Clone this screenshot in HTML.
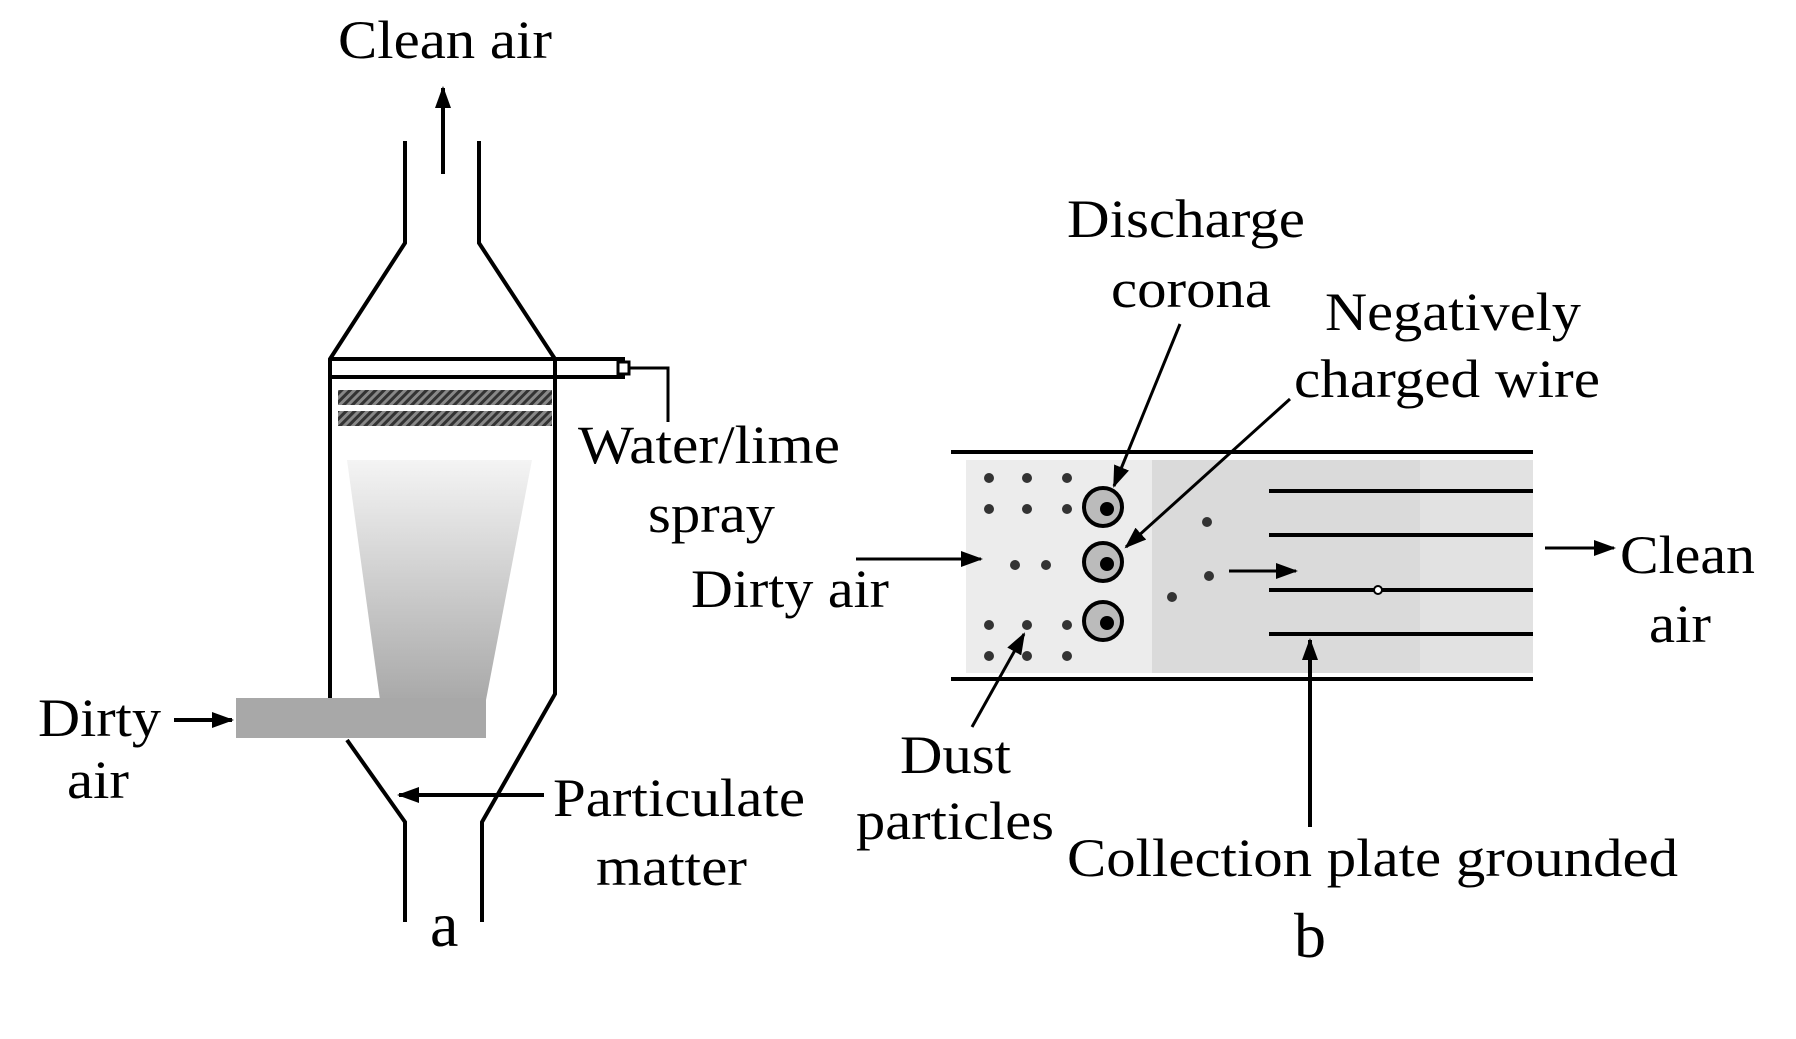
<!DOCTYPE html>
<html><head><meta charset="utf-8"><style>html,body{margin:0;padding:0;background:#fff}svg{display:block}text{font-family:"Liberation Serif","Times New Roman",serif}</style></head>
<body>
<svg width="1796" height="1039" viewBox="0 0 1796 1039" xmlns="http://www.w3.org/2000/svg">
<defs>
<marker id="ah2" markerWidth="22" markerHeight="16" refX="20" refY="8" orient="auto" markerUnits="userSpaceOnUse">
<path d="M0,0 L22,8 L0,16 Z" fill="#000"/></marker>
<linearGradient id="sg" x1="0" y1="0" x2="0" y2="1">
<stop offset="0" stop-color="#f4f4f4"/><stop offset="1" stop-color="#a9a9a9"/></linearGradient>
<pattern id="hatch" width="6" height="6" patternUnits="userSpaceOnUse" patternTransform="rotate(45)">
<rect width="6" height="6" fill="#888"/><rect width="3" height="6" fill="#333"/></pattern>
</defs>
<g font-size="54" fill="#000">
<!-- LEFT -->
<text x="338" y="58" textLength="214" lengthAdjust="spacingAndGlyphs">Clean air</text>
<line x1="443" y1="174" x2="443" y2="88" stroke="#000" stroke-width="4" marker-end="url(#ah2)"/>
<g stroke="#000" stroke-width="4" fill="none">
<polyline points="405,141 405,243 330,359 330,706"/>
<polyline points="479,141 479,243 555,359 555,694 482,822 482,922"/>
<polyline points="347,740 405,822 405,922"/>
<line x1="330" y1="359" x2="625" y2="359"/>
<line x1="330" y1="377" x2="625" y2="377"/>
<polyline points="625,368 668,368 668,422" stroke-width="3"/>
</g>
<rect x="618" y="362" width="11" height="12" fill="#fff" stroke="#000" stroke-width="3"/>
<rect x="338" y="390" width="214" height="15" fill="url(#hatch)"/>
<rect x="338" y="411" width="214" height="15" fill="url(#hatch)"/>
<polygon points="347,460 532,460 486,700 380,700" fill="url(#sg)"/>
<rect x="236" y="698" width="250" height="40" fill="#a8a8a8"/>
<line x1="174" y1="720" x2="232" y2="720" stroke="#000" stroke-width="4" marker-end="url(#ah2)"/>
<line x1="544" y1="795" x2="399" y2="795" stroke="#000" stroke-width="4" marker-end="url(#ah2)"/>
<text x="38" y="736" textLength="123" lengthAdjust="spacingAndGlyphs">Dirty</text>
<text x="67" y="798" textLength="62" lengthAdjust="spacingAndGlyphs">air</text>
<text x="553" y="816" textLength="252" lengthAdjust="spacingAndGlyphs">Particulate</text>
<text x="596" y="885" textLength="151" lengthAdjust="spacingAndGlyphs">matter</text>
<text x="430" y="946" font-size="64">a</text>
<text x="578" y="463" textLength="262" lengthAdjust="spacingAndGlyphs">Water/lime</text>
<text x="648" y="532" textLength="127" lengthAdjust="spacingAndGlyphs">spray</text>
<!-- RIGHT -->
<rect x="966" y="460" width="186" height="213" fill="#ececec"/>
<rect x="1152" y="460" width="381" height="213" fill="#dadada"/>
<rect x="1420" y="460" width="113" height="213" fill="#e2e2e2"/>
<g stroke="#000" stroke-width="4">
<line x1="951" y1="452" x2="1533" y2="452"/>
<line x1="951" y1="679" x2="1533" y2="679"/>
<line x1="1269" y1="491" x2="1533" y2="491"/>
<line x1="1269" y1="535" x2="1533" y2="535"/>
<line x1="1269" y1="590" x2="1533" y2="590"/>
<line x1="1269" y1="634" x2="1533" y2="634"/>
</g>
<circle cx="1378" cy="590" r="4" fill="#fff" stroke="#000" stroke-width="2"/>
<g>
<circle cx="1103" cy="507" r="19" fill="#bbb" stroke="#000" stroke-width="4"/><circle cx="1107" cy="509" r="7" fill="#000"/>
<circle cx="1103" cy="562" r="19" fill="#bbb" stroke="#000" stroke-width="4"/><circle cx="1107" cy="564" r="7" fill="#000"/>
<circle cx="1103" cy="621" r="19" fill="#bbb" stroke="#000" stroke-width="4"/><circle cx="1107" cy="623" r="7" fill="#000"/>
</g>
<g fill="#333">
<circle cx="989" cy="478" r="5"/><circle cx="1027" cy="478" r="5"/><circle cx="1067" cy="478" r="5"/>
<circle cx="989" cy="509" r="5"/><circle cx="1027" cy="509" r="5"/><circle cx="1067" cy="509" r="5"/>
<circle cx="1015" cy="565" r="5"/><circle cx="1046" cy="565" r="5"/>
<circle cx="989" cy="625" r="5"/><circle cx="1027" cy="625" r="5"/><circle cx="1067" cy="625" r="5"/>
<circle cx="989" cy="656" r="5"/><circle cx="1027" cy="656" r="5"/><circle cx="1067" cy="656" r="5"/>
<circle cx="1207" cy="522" r="5"/><circle cx="1209" cy="576" r="5"/><circle cx="1172" cy="597" r="5"/>
</g>
<line x1="1229" y1="571" x2="1296" y2="571" stroke="#000" stroke-width="3" marker-end="url(#ah2)"/>
<line x1="856" y1="559" x2="981" y2="559" stroke="#000" stroke-width="3" marker-end="url(#ah2)"/>
<line x1="1545" y1="548" x2="1614" y2="548" stroke="#000" stroke-width="3" marker-end="url(#ah2)"/>
<line x1="1310" y1="827" x2="1310" y2="640" stroke="#000" stroke-width="4" marker-end="url(#ah2)"/>
<line x1="972" y1="727" x2="1024" y2="634" stroke="#000" stroke-width="3" marker-end="url(#ah2)"/>
<line x1="1180" y1="324" x2="1114" y2="486" stroke="#000" stroke-width="3" marker-end="url(#ah2)"/>
<line x1="1290" y1="399" x2="1126" y2="547" stroke="#000" stroke-width="3" marker-end="url(#ah2)"/>
<text x="691" y="607" textLength="198" lengthAdjust="spacingAndGlyphs">Dirty air</text>
<text x="1620" y="573" textLength="135" lengthAdjust="spacingAndGlyphs">Clean</text>
<text x="1649" y="642" textLength="62" lengthAdjust="spacingAndGlyphs">air</text>
<text x="1067" y="876" textLength="611" lengthAdjust="spacingAndGlyphs">Collection plate grounded</text>
<text x="1294" y="957" font-size="64">b</text>
<text x="900" y="773" textLength="111" lengthAdjust="spacingAndGlyphs">Dust</text>
<text x="856" y="839" textLength="198" lengthAdjust="spacingAndGlyphs">particles</text>
<text x="1067" y="237" textLength="238" lengthAdjust="spacingAndGlyphs">Discharge</text>
<text x="1111" y="307" textLength="160" lengthAdjust="spacingAndGlyphs">corona</text>
<text x="1325" y="330" textLength="256" lengthAdjust="spacingAndGlyphs">Negatively</text>
<text x="1294" y="397" textLength="306" lengthAdjust="spacingAndGlyphs">charged wire</text>
</g>
</svg>
</body></html>
